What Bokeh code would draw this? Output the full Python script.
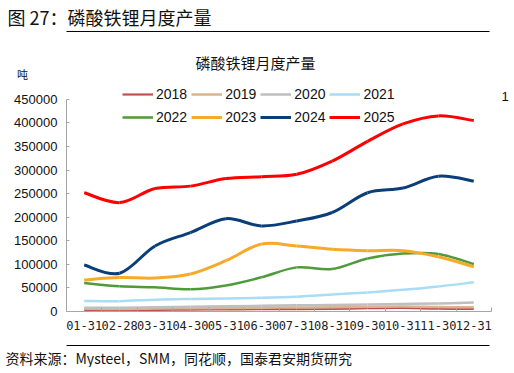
from bokeh.plotting import figure
from bokeh.models import (Legend, LegendItem, FixedTicker, Range1d, Title,
                          LinearAxis, NumeralTickFormatter)
from bokeh.layouts import column
from bokeh.embed import file_html
from bokeh.resources import INLINE

# ---------------- data ----------------
months = ["01-31", "02-28", "03-31", "04-30", "05-31", "06-30",
          "07-31", "08-31", "09-30", "10-31", "11-30", "12-31"]
y2018 = [3000, 2500, 3500, 4000, 4500, 5000, 5000, 5500, 7000, 7500, 6000, 5500]
y2019 = [6000, 5500, 6500, 7000, 7500, 8000, 8500, 9000, 10000, 10500, 9500, 9000]
y2020 = [8000, 7800, 9000, 10000, 11000, 12000, 13000, 14000, 15000, 16000, 17000, 19000]
y2021 = [22500, 22000, 25000, 26500, 27500, 29000, 31500, 36000, 40500, 46000, 53000, 62000]
y2022 = [60600, 53500, 51300, 47000, 55000, 72500, 93600, 90000, 112600, 123000, 122000, 100700]
y2023 = [67000, 72000, 71000, 79600, 107700, 143000, 139000, 132000, 129000, 129000, 116000, 95000]
y2024 = [98600, 81000, 139000, 167500, 197000, 181600, 192000, 210000, 252000, 262000, 287000, 276700]
y2025 = [252000, 231000, 261000, 266000, 282000, 286000, 291000, 319000, 361000, 398000, 415000, 405000]
years = ["2018", "2019", "2020", "2021", "2022", "2023", "2024", "2025"]
yticks = [0, 50000, 100000, 150000, 200000, 250000, 300000, 350000, 400000, 450000]
ymax = 450000

series = [y2018, y2019, y2020, y2021, y2022, y2023, y2024, y2025]
colors = ["#C0504D", "#D9B48F", "#BFBFBF", "#A9DCF5", "#4F9A3A", "#F7A92A", "#0B3D78", "#FF0000"]
widths = [2.2, 2.5, 2.5, 2.5, 2.5, 3, 3, 3]

# ---------------- geometry (page pixels) ----------------
W = 514
H1 = 344                                    # main figure height; footer strip below
H2 = 23
FL, FR, FT, FB = 66, 491, 72, 311          # plot frame
AX_TOP = 98                                 # pixel row of ymax
n = len(months)
x0r, x1r = 0.5, n + 0.5
ppx = (FR - FL) / (x1r - x0r)
vpp = ymax / (FB - AX_TOP)                  # value per pixel
def xd(px):  # page x -> data x
    return x0r + (px - FL) / ppx
def yd(py):  # page y -> data y
    return (FB - py) * vpp

p = figure(width=W, height=H1, output_backend="svg", toolbar_location=None,
           x_range=Range1d(x0r, x1r), y_range=Range1d(0, yd(FT)),
           min_border_left=FL, min_border_right=W - FR, min_border_top=FT,
           min_border_bottom=H1 - FB,
           background_fill_color="white", border_fill_color="white")
p.outline_line_color = None
p.grid.visible = False
p.xaxis.visible = False
p.yaxis.visible = False

xa = LinearAxis(ticker=FixedTicker(ticks=list(range(1, n + 1)),
                                   minor_ticks=[i + 0.5 for i in range(n + 1)]),
                major_label_overrides={i + 1: m for i, m in enumerate(months)},
                major_tick_in=0, major_tick_out=0, minor_tick_in=4, minor_tick_out=0,
                axis_line_color="#A6A6A6", minor_tick_line_color="#A6A6A6",
                major_label_text_font="DejaVu Sans Mono", major_label_text_font_size="12px",
                major_label_text_color="#222222", major_label_standoff=9)
p.add_layout(xa, "below")
ya = LinearAxis(ticker=FixedTicker(ticks=yticks), formatter=NumeralTickFormatter(format="0"),
                bounds=(0, ymax),
                major_tick_in=3, major_tick_out=0, minor_tick_in=0, minor_tick_out=0,
                axis_line_color="#A6A6A6", major_tick_line_color="#A6A6A6",
                major_label_text_font="Liberation Sans", major_label_text_font_size="13px",
                major_label_text_color="#111111", major_label_standoff=9,
                axis_label="吨", axis_label_orientation="horizontal", axis_label_align="end",
                axis_label_standoff=-17, axis_label_text_font="Noto Sans CJK SC",
                axis_label_text_font_size="11px", axis_label_text_font_style="normal",
                axis_label_text_color="#111111")
p.add_layout(ya, "left")

def spacer(fig, side, px):
    ax = LinearAxis(ticker=FixedTicker(ticks=[1]), major_label_overrides={1: ""},
                    axis_line_color=None, major_tick_line_color=None, minor_tick_line_color=None,
                    major_tick_in=0, major_tick_out=px, major_label_standoff=0)
    fig.add_layout(ax, side)

def rule(fig, side, lo, hi, tick):
    ax = LinearAxis(ticker=FixedTicker(ticks=[tick]), major_label_overrides={tick: ""},
                    bounds=(lo, hi),
                    axis_line_color="black", axis_line_width=1.2,
                    major_tick_line_color=None, minor_tick_line_color=None,
                    major_tick_in=0, major_tick_out=1, major_label_standoff=0)
    fig.add_layout(ax, side)

# above the frame: chart title, gap, header rule, header title
p.add_layout(Title(text="磷酸铁锂月度产量", align="left", offset=195 - FL, standoff=2,
                   text_font="Noto Sans CJK SC", text_font_size="15px", text_font_style="normal",
                   text_color="#111111"), "above")
spacer(p, "above", 17)
rule(p, "above", xd(0), xd(489), 1)
p.add_layout(Title(text="图 27：磷酸铁锂月度产量", align="left", offset=7 - FL, standoff=2,
                   text_font="Noto Sans CJK SC", text_font_size="18px", text_font_style="normal",
                   text_color="#111111"), "above")
spacer(p, "below", 9)

# crumb of the neighbouring chart at the right edge
crumbs = {yd(95): "1"}
ra = LinearAxis(ticker=FixedTicker(ticks=list(crumbs.keys())), major_label_overrides=crumbs,
                axis_line_color=None, major_tick_line_color=None,
                minor_tick_line_color=None, major_tick_in=0, major_tick_out=0,
                major_label_standoff=10, major_label_text_font="Liberation Sans",
                major_label_text_font_size="13px", major_label_text_color="#111111")
p.add_layout(ra, "right")

# smooth curves (Catmull-Rom -> cubic Bezier) drawn through Bokeh scales
renderers = []
for ys, c, w in zip(series, colors, widths):
    xs = list(range(1, len(ys) + 1))
    m = len(ys)
    X0, Y0, X1, Y1, CX0, CY0, CX1, CY1 = [], [], [], [], [], [], [], []
    for i in range(m - 1):
        pm = max(i - 1, 0)
        pp = min(i + 2, m - 1)
        X0.append(xs[i]); Y0.append(ys[i])
        X1.append(xs[i + 1]); Y1.append(ys[i + 1])
        CX0.append(xs[i] + (xs[i + 1] - xs[pm]) / 6.0)
        CY0.append(ys[i] + (ys[i + 1] - ys[pm]) / 6.0)
        CX1.append(xs[i + 1] - (xs[pp] - xs[i]) / 6.0)
        CY1.append(ys[i + 1] - (ys[pp] - ys[i]) / 6.0)
    r = p.bezier(x0=X0, y0=Y0, x1=X1, y1=Y1, cx0=CX0, cy0=CY0, cx1=CX1, cy1=CY1,
                 line_color=c, line_width=w)
    renderers.append(r)

# legend: two rows of four (inside the frame)
for row in range(2):
    items = [LegendItem(label=years[k], renderers=[renderers[k]]) for k in range(row * 4, row * 4 + 4)]
    leg = Legend(items=items, orientation="horizontal", location=(56, 207 - row * 23.4),
                 glyph_width=31, glyph_height=14, label_standoff=3, spacing=4,
                 padding=0, margin=0, border_line_color=None, background_fill_alpha=0,
                 label_text_font="Liberation Sans", label_text_font_size="14px",
                 label_text_color="#111111", label_height=20, label_width=20)
    p.add_layout(leg)

# ---------------- footer strip (small figure; its frame lines up with the main one) ----------------
f = figure(width=W, height=H2, output_backend="svg", toolbar_location=None,
           x_range=Range1d(FL, FR), y_range=Range1d(0, 1),
           x_axis_location=None, y_axis_location=None,
           min_border_left=0, min_border_right=0, min_border_top=0, min_border_bottom=0,
           background_fill_color="white", border_fill_color="white")
f.outline_line_color = None
f.grid.visible = False
rule(f, "above", 0, 489, 100)
f.add_layout(Title(text="资料来源：Mysteel，SMM，同花顺，国泰君安期货研究", align="left", offset=5 - FL,
                   standoff=0, text_font="Noto Sans CJK SC", text_font_size="14px",
                   text_font_style="normal", text_color="#111111"), "below")

layout = column(p, f, spacing=0)
open("out.html", "w").write(file_html(layout, INLINE))
